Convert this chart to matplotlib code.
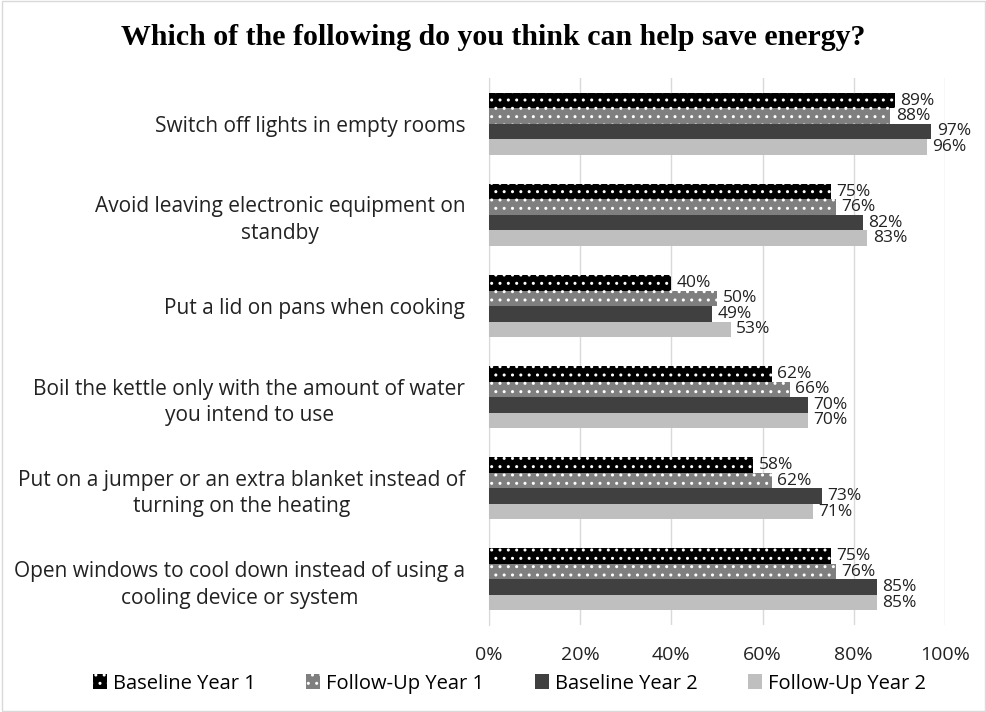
import matplotlib.pyplot as plt
import numpy as np
from matplotlib.patches import Rectangle

categories = [
    "Switch off lights in empty rooms",
    "Avoid leaving electronic equipment on\nstandby",
    "Put a lid on pans when cooking",
    "Boil the kettle only with the amount of water\nyou intend to use",
    "Put on a jumper or an extra blanket instead of\nturning on the heating",
    "Open windows to cool down instead of using a\ncooling device or system",
]
series_names = ["Baseline Year 1", "Follow-Up Year 1", "Baseline Year 2", "Follow-Up Year 2"]
baseline_y1 = [89, 75, 40, 62, 58, 75]
followup_y1 = [88, 76, 50, 66, 62, 76]
baseline_y2 = [97, 82, 49, 70, 73, 85]
followup_y2 = [96, 83, 53, 70, 71, 85]
x_ticks = [0, 20, 40, 60, 80, 100]

series = [baseline_y1, followup_y1, baseline_y2, followup_y2]
colors = ["#000000", "#7f7f7f", "#404040", "#bfbfbf"]
hatches = ["..", "..", None, None]

plt.rcParams['font.family'] = ['Open Sans', 'DejaVu Sans']
plt.rcParams['hatch.linewidth'] = 1.0

fig = plt.figure(figsize=(9.87, 7.12), dpi=100)
ax = fig.add_axes([0.4954, 0.1222, 0.462, 0.768])

n = len(categories)
y = np.arange(n)
h = 0.17
for i, vals in enumerate(series):
    pos = y + (i - 1.5) * h
    ax.barh(pos, [v / 100 for v in vals], height=h, color=colors[i],
            hatch=hatches[i], edgecolor="white" if hatches[i] else colors[i],
            linewidth=0, label=series_names[i], zorder=3)
    # etiquetas de valor al final de cada barra
    for p, v in zip(pos, vals):
        ax.annotate(f"{v}%", (v / 100, p), xytext=(4, 0), textcoords="offset points",
                    va="center", ha="left", fontsize=12.5, color="#222222")

ax.set_yticks(y)
ax.set_yticklabels(categories, fontsize=15, multialignment="center", linespacing=1.35)
ax.set_ylim(n - 0.5, -0.5)
ax.set_xlim(0, 1)
ax.set_xticks([t / 100 for t in x_ticks])
ax.set_xticklabels([f"{t}%" for t in x_ticks], fontsize=14)
ax.tick_params(axis="both", length=0, colors="#222222")
ax.tick_params(axis="x", pad=15)
ax.tick_params(axis="y", pad=17)
ax.grid(axis="x", color="#d9d9d9", linewidth=1, zorder=0)
for s in ["top", "right", "bottom"]:
    ax.spines[s].set_visible(False)
ax.spines["left"].set_color("#d9d9d9")

fig.text(0.5, 0.947, "Which of the following do you think can help save energy?",
         family="Liberation Serif", fontweight="bold", fontsize=21.5,
         ha="center", va="center")

fig.legend(loc="center", ncol=4, frameon=False, fontsize=14.5,
           bbox_to_anchor=(0.516, 0.04), handlelength=0.7, handleheight=0.7,
           columnspacing=2.5, handletextpad=0.3)

fig.patches.append(Rectangle((0.002, 0.002), 0.996, 0.996, transform=fig.transFigure,
                             fill=False, edgecolor="#d9d9d9", linewidth=1))

fig.savefig("out.png", dpi=100)
